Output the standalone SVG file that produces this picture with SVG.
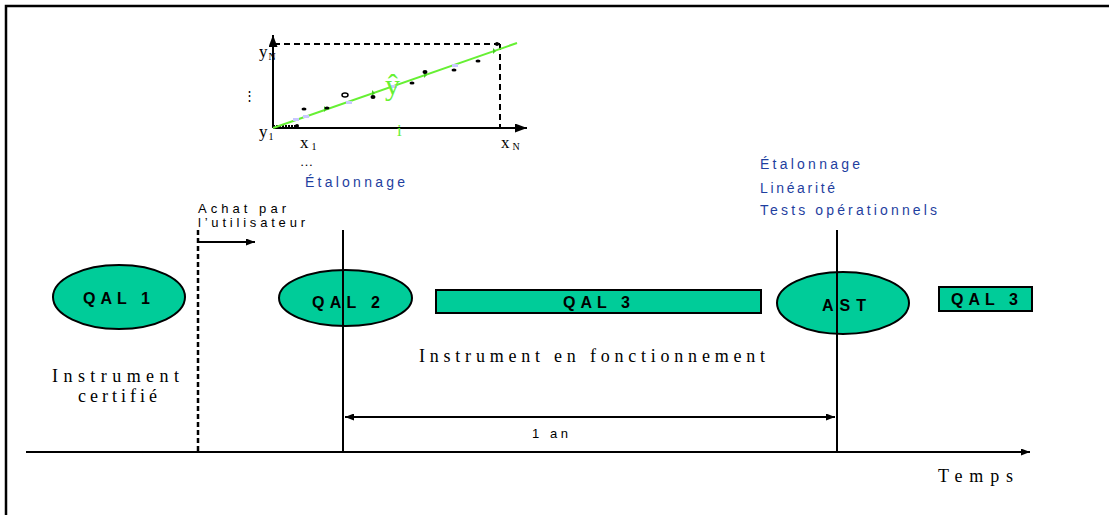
<svg xmlns="http://www.w3.org/2000/svg" width="1109" height="515" viewBox="0 0 1109 515">
<style>
.sans{font-family:"Liberation Sans",Arial,sans-serif}
.serif{font-family:"Liberation Serif","Times New Roman",serif}
.lbl{font-family:"Liberation Sans",Arial,sans-serif;font-weight:bold;font-size:16px;fill:#000}
.blue{font-family:"Liberation Sans",Arial,sans-serif;font-size:14px;fill:#1f3f9f}
.node{fill:#00cc99;stroke:#000;stroke-width:2}
.ln{stroke:#000;stroke-width:2;fill:none}
</style>
<defs>
<marker id="ah" viewBox="0 0 10 10" refX="10" refY="5" markerWidth="9" markerHeight="7" markerUnits="userSpaceOnUse" orient="auto-start-reverse" preserveAspectRatio="none"><path d="M0,0 L10,5 L0,10 Z" fill="#000"/></marker>
<marker id="ah2" viewBox="0 0 10 10" refX="10" refY="5" markerWidth="12" markerHeight="9" markerUnits="userSpaceOnUse" orient="auto" preserveAspectRatio="none"><path d="M0,0 L10,5 L0,10 Z" fill="#000"/></marker>
</defs>
<rect width="1109" height="515" fill="#fff"/>
<!-- frame -->
<path d="M6,515 L6,6 L1109,6" stroke="#000" stroke-width="2.5" fill="none"/>

<!-- chart -->
<g id="chart">
<line x1="500" y1="44" x2="273" y2="44" stroke="#000" stroke-width="2" stroke-dasharray="6,4"/>
<line x1="500" y1="44" x2="500" y2="128" stroke="#000" stroke-width="2" stroke-dasharray="6,4"/>
<line x1="273" y1="128" x2="273" y2="35" class="ln" marker-end="url(#ah2)"/>
<line x1="273" y1="128" x2="527" y2="128" class="ln" marker-end="url(#ah2)"/>
<line x1="273" y1="126" x2="297" y2="126" stroke="#000" stroke-width="2" stroke-dasharray="2,1"/>
<line x1="273" y1="128" x2="517" y2="43" stroke="#66f033" stroke-width="2"/>
<g fill="#c8c8ff">
<rect x="293" y="118" width="6" height="3"/><rect x="303" y="115" width="6" height="3"/><rect x="346" y="101" width="6" height="3"/><rect x="391" y="85" width="6" height="3"/><rect x="452" y="64" width="6" height="3"/>
</g>
<g fill="#44cc22">
<path d="M324,106 l3,3 l-3,3 z"/><path d="M372,90 l3,3 l-3,3 z"/><path d="M424,72 l3,3 l-3,3 z"/><path d="M493,48 l3,3 l-3,3 z"/>
</g>
<g fill="#000">
<circle cx="297" cy="126" r="2"/>
<ellipse cx="304" cy="109" rx="2.5" ry="1.5"/>
<ellipse cx="327" cy="108" rx="2.5" ry="1.5"/>
<ellipse cx="345" cy="95" rx="3" ry="2" fill="none" stroke="#000" stroke-width="1.5"/>
<ellipse cx="373" cy="97" rx="2.5" ry="2"/>
<ellipse cx="412" cy="83" rx="2.5" ry="1.5"/>
<ellipse cx="425" cy="72" rx="2.5" ry="2"/>
<ellipse cx="454" cy="70" rx="2.5" ry="1.5"/>
<ellipse cx="478" cy="61" rx="2.5" ry="1.5"/>
<ellipse cx="497" cy="44" rx="2" ry="2"/>
</g>
<text class="serif" x="259" y="57" font-size="17">y<tspan font-size="10" dx="1" dy="3">N</tspan></text>
<text class="serif" x="259" y="137" font-size="17">y<tspan font-size="10" dx="1" dy="3">1</tspan></text>
<text class="serif" x="300" y="148" font-size="17">x<tspan font-size="10" dx="3" dy="2">1</tspan></text>
<text class="serif" x="501" y="148" font-size="17">x<tspan font-size="10" dx="3" dy="2">N</tspan></text>
<text class="serif" x="300" y="166" font-size="13">…</text>
<text class="serif" x="243" y="100" font-size="13">⋮</text>
<text class="serif" x="385" y="95" font-size="30" fill="#66f033">ŷ</text>
<text class="serif" x="397" y="136" font-size="17" fill="#66f033">i</text>
<text class="blue" x="305" y="187" textLength="100" lengthAdjust="spacing">Étalonnage</text>
</g>

<!-- connectors -->
<g id="connectors">
<line x1="26" y1="452" x2="1030" y2="452" class="ln" marker-end="url(#ah)"/>
<line x1="343" y1="230" x2="343" y2="452" class="ln"/>
<line x1="837" y1="230" x2="837" y2="452" class="ln"/>
<line x1="198" y1="230" x2="198" y2="452" stroke="#000" stroke-width="2.5" stroke-dasharray="5,3"/>
<line x1="198" y1="242" x2="255" y2="242" class="ln" marker-end="url(#ah)"/>
<line x1="345" y1="417" x2="835" y2="417" class="ln" marker-start="url(#ah)" marker-end="url(#ah)"/>
</g>

<g id="qal1">
<ellipse class="node" cx="119" cy="297" rx="66" ry="32"/>
<text class="lbl" x="83" y="304" textLength="67" lengthAdjust="spacing">QAL 1</text>
</g>
<g id="qal2">
<ellipse class="node" cx="345.5" cy="298" rx="66.5" ry="28"/>
<line x1="343" y1="270" x2="343" y2="326" class="ln"/>
<text class="lbl" x="312" y="308" textLength="68" lengthAdjust="spacing">QAL 2</text>
</g>
<g id="qal3a">
<rect class="node" x="436" y="290" width="325" height="23"/>
<text class="lbl" x="563" y="308" textLength="67" lengthAdjust="spacing">QAL 3</text>
</g>
<g id="ast">
<ellipse class="node" cx="843" cy="303" rx="66" ry="31"/>
<line x1="837" y1="272" x2="837" y2="334" class="ln"/>
<text class="lbl" x="822" y="311" textLength="44" lengthAdjust="spacing">AST</text>
</g>
<g id="qal3b">
<rect class="node" x="939" y="287" width="93" height="24"/>
<text class="lbl" x="951" y="305" textLength="67" lengthAdjust="spacing">QAL 3</text>
</g>

<g id="labels">
<text class="sans" x="198" y="213" font-size="13" textLength="88" lengthAdjust="spacing">Achat par</text>
<text class="sans" x="198" y="227" font-size="13" textLength="107" lengthAdjust="spacing">l’utilisateur</text>
<text class="blue" x="760" y="169" textLength="100" lengthAdjust="spacing">Étalonnage</text>
<text class="blue" x="760" y="193" textLength="75" lengthAdjust="spacing">Linéarité</text>
<text class="blue" x="760" y="215" textLength="177" lengthAdjust="spacing">Tests opérationnels</text>
<text class="serif" x="419" y="362" font-size="18" textLength="346" lengthAdjust="spacing">Instrument en fonctionnement</text>
<text class="serif" x="52" y="382" font-size="18" textLength="127" lengthAdjust="spacing">Instrument</text>
<text class="serif" x="78" y="402" font-size="18" textLength="79" lengthAdjust="spacing">certifié</text>
<text class="sans" x="532" y="438" font-size="13" textLength="36" lengthAdjust="spacing">1 an</text>
<text class="serif" x="938" y="482" font-size="18" textLength="75" lengthAdjust="spacing">Temps</text>
</g>
</svg>
